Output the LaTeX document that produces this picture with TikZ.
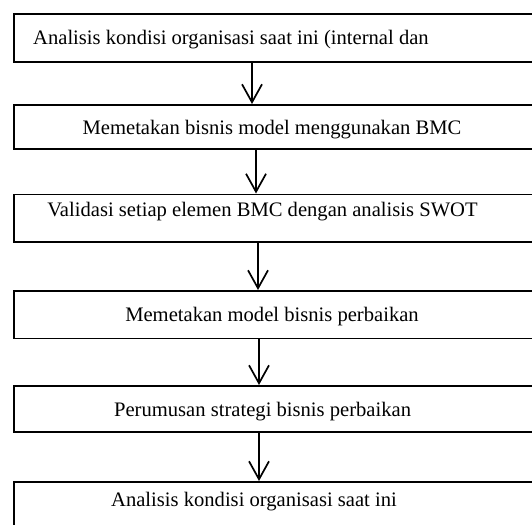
\documentclass[tikz,border=0pt]{standalone}
\usepackage{fontspec}
\setmainfont{Liberation Serif}
\usetikzlibrary{arrows.meta}
\begin{document}
\begin{tikzpicture}[x=1pt,y=-1pt,
  stepbox/.style={draw=black,line width=1.8pt,fill=none,rectangle,inner sep=0pt},
  lbl/.style={font=\fontsize{20.6}{24}\selectfont,inner sep=0pt,anchor=base},
  flow/.style={line width=1.7pt,-{Straight Barb[length=18pt,width=20pt,line width=1.7pt]}}]
\useasboundingbox (0,0) rectangle (532,524);
\fill[white] (0,0) rectangle (532,524);
\clip (0,0) rectangle (532,524);
% boxes (extend beyond the right/bottom edge as in the reference)
\node[stepbox,minimum width=540pt,minimum height=48.2pt,anchor=north west] (b1) at (12.7,13.3) {};
\node[stepbox,minimum width=540pt,minimum height=44pt,anchor=north west] (b2) at (12.7,104) {};
\node[stepbox,minimum width=540pt,minimum height=47.5pt,anchor=north west] (b3) at (12.7,193.5) {};
\node[stepbox,minimum width=540pt,minimum height=47.5pt,anchor=north west] (b4) at (12.7,290) {};
\node[stepbox,minimum width=540pt,minimum height=45.7pt,anchor=north west] (b5) at (12.7,385) {};
\node[stepbox,minimum width=540pt,minimum height=60pt,anchor=north west] (b6) at (12.7,481) {};
% texts
\node[lbl,anchor=base west] (t1) at (33,44.3) {Analisis kondisi organisasi saat ini (internal dan};
\node[lbl] (t2) at (272,135) {Memetakan bisnis model menggunakan BMC};
\node[lbl] (t3) at (262.5,216.7) {Validasi setiap elemen BMC dengan analisis SWOT};
\node[lbl] (t4) at (272,321.7) {Memetakan model bisnis perbaikan};
\node[lbl] (t5) at (262.6,416.7) {Perumusan strategi bisnis perbaikan};
\node[lbl] (t6) at (254,506.7) {Analisis kondisi organisasi saat ini};
% arrows
\draw[flow] (b1.south west -| 252,0) -- (b2.north west -| 252,0);
\draw[flow] (b2.south west -| 256,0) -- (b3.north west -| 256,0);
\draw[flow] (b3.south west -| 258,0) -- (b4.north west -| 258,0);
\draw[flow] (b4.south west -| 259,0) -- (b5.north west -| 259,0);
\draw[flow] (b5.south west -| 259,0) -- (b6.north west -| 259,0);
\end{tikzpicture}
\end{document}
